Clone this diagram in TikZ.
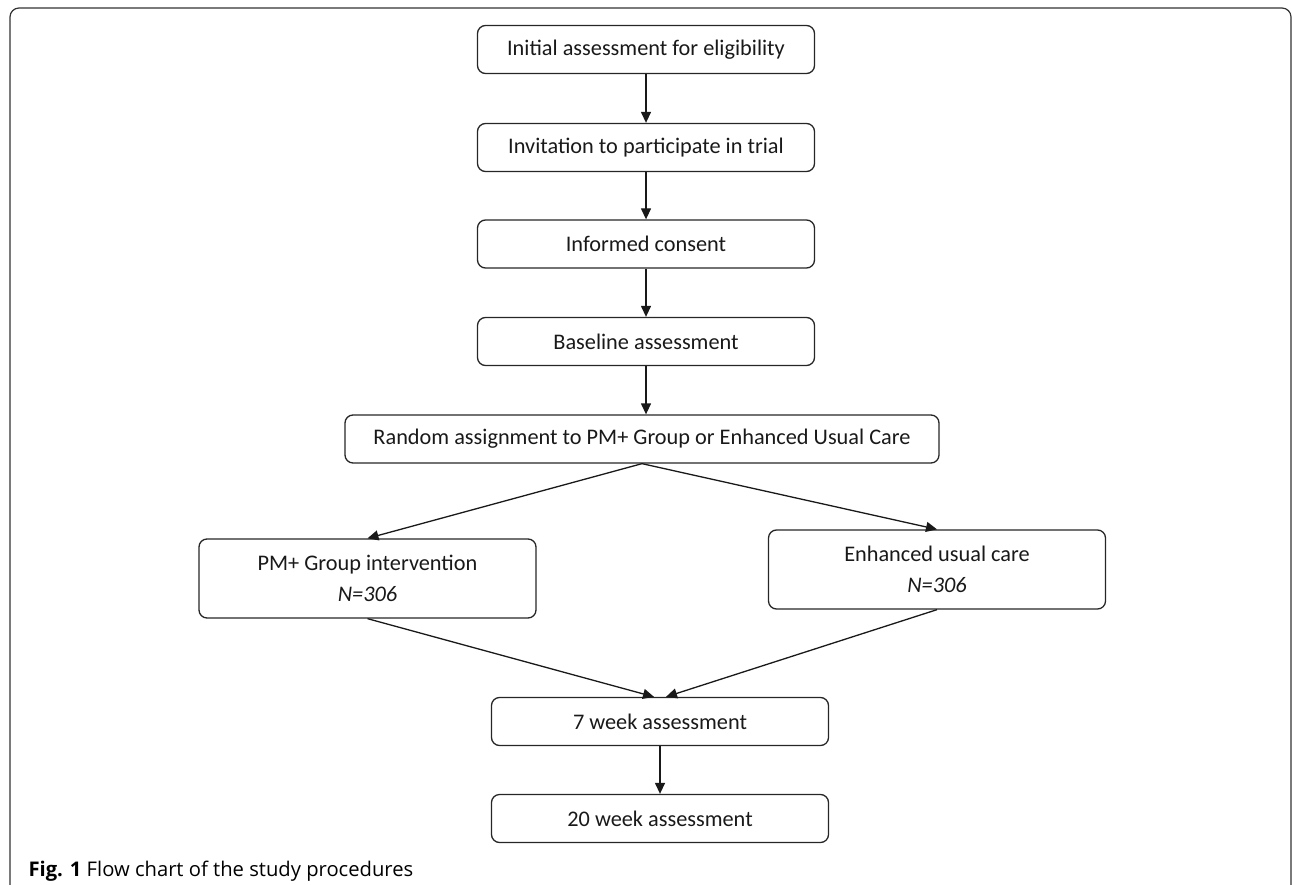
\documentclass[tikz,border=0pt]{standalone}
\usepackage{fontspec}
\setmainfont{Carlito}
\newfontfamily\capfont{Open Sans}
\usetikzlibrary{arrows.meta}

\begin{document}
\begin{tikzpicture}[x=1pt, y=-1pt,
  box/.style={draw=black!85, line width=1.3pt, rounded corners=8pt, align=center,
    minimum width=337pt, minimum height=48pt, inner sep=0pt, text=black!90,
    font=\fontsize{22.3}{31}\selectfont},
  arm/.style={-{Triangle[length=11pt,width=10pt]}, line width=1.3pt, color=black!90}]
  \useasboundingbox (0,0) rectangle (1292,885);
  \draw[line width=1.2pt, draw=black!80, rounded corners=9pt] (10,885) -- (10,8) -- (1291,8) -- (1291,885);

  \node[box] (0) at (646, 49.5) {Initial assessment for eligibility};
  \node[box] (1) at (646, 147.5) {Invitation to participate in trial};
  \node[box] (2) at (646, 244) {Informed consent};
  \node[box] (3) at (646, 341.5) {Baseline assessment};
  \node[box, minimum width=594pt] (4) at (642, 439) {Random assignment to PM+ Group or Enhanced Usual Care};
  \node[box, minimum height=79pt] (5) at (367.5, 578.5) {PM+ Group intervention\\\textit{N=306}};
  \node[box, minimum height=79pt] (6) at (937, 569.5) {Enhanced usual care\\\textit{N=306}};
  \node[box] (7) at (660, 721.5) {7 week assessment};
  \node[box] (8) at (660, 818.5) {20 week assessment};

  \node[anchor=base west, font=\capfont\fontsize{20.2}{23}\selectfont] (cap) at (25, 876) {\textbf{Fig. 1} Flow chart of the study procedures};

  \path[arm] (0) edge (1);
  \path[arm] (1) edge (2);
  \path[arm] (2) edge (3);
  \path[arm] (3.south) edge (3.south |- 4.north);
  \path[arm] (4.south) edge (5.north);
  \path[arm] (4.south) edge (6.north);
  \path[arm] (5.south) edge ([xshift=-6pt]7.north);
  \path[arm] (6.south) edge ([xshift=6pt]7.north);
  \path[arm] (7) edge (8);
\end{tikzpicture}
\end{document}
